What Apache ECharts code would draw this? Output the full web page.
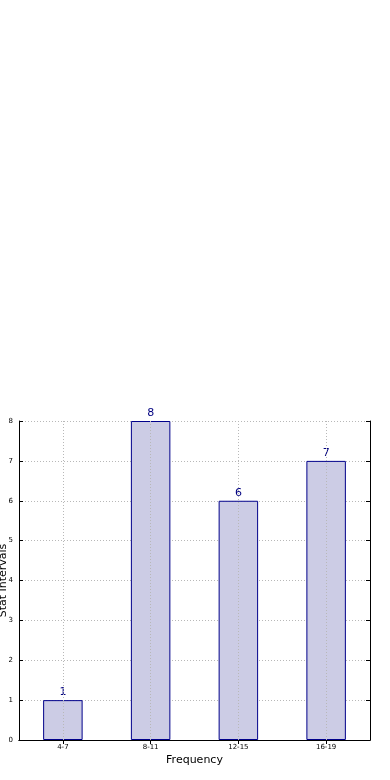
<!DOCTYPE html>
<html>
<head>
<meta charset="utf-8">
<script src="https://cdn.jsdelivr.net/npm/echarts@6/dist/echarts.min.js"></script>
<style>
html,body{margin:0;padding:0;background:#fff;}
#chart{width:390px;height:780px;}
</style>
</head>
<body>
<div id="chart"></div>
<script>
var categories = ['4-7', '8-11', '12-15', '16-19'];
var values = [1, 8, 6, 7];
var yTicks = [0, 1, 2, 3, 4, 5, 6, 7, 8];

var chart = echarts.init(document.getElementById('chart'));
var font = 'DejaVu Sans';
var gridLine = {color: '#b8b8b8', type: [1, 2], width: 1};
chart.setOption({
  animation: false,
  grid: {left: 19, right: 20, top: 421, bottom: 40, containLabel: false, outerBoundsMode: 'none'},
  xAxis: [{
    type: 'category', data: categories, position: 'bottom',
    boundaryGap: true,
    axisLine: {show: true, lineStyle: {color: '#000', width: 1}},
    axisTick: {show: true, inside: true, alignWithLabel: true, length: 4, lineStyle: {color: '#000'}},
    axisLabel: {color: '#000', fontSize: 7, fontFamily: font, margin: 4},
    splitLine: {show: false},
    name: 'Frequency', nameLocation: 'middle', nameGap: 15, nameMoveOverlap: false,
    nameTextStyle: {color: '#000', fontSize: 11, fontFamily: font}
  }, {
    type: 'category', data: categories, position: 'top',
    boundaryGap: true,
    axisLine: {show: true, lineStyle: {color: '#000', width: 1}},
    axisTick: {show: true, inside: true, alignWithLabel: true, length: 4, lineStyle: {color: '#000'}},
    axisLabel: {show: false},
    splitLine: {show: false}
  }],
  yAxis: [{
    type: 'value', min: 0, max: 8, interval: 1, position: 'left',
    axisLine: {show: true, lineStyle: {color: '#000', width: 1}},
    axisTick: {show: true, inside: true, length: 4, lineStyle: {color: '#000'}},
    axisLabel: {color: '#000', fontSize: 7, fontFamily: font, margin: 6,
      formatter: function (v) { return yTicks.indexOf(v) >= 0 ? String(v) : ''; }},
    splitLine: {show: true, lineStyle: gridLine},
    name: 'Stat Intervals', nameLocation: 'middle', nameGap: 10, nameRotate: 90, nameMoveOverlap: false,
    nameTextStyle: {color: '#000', fontSize: 11, fontFamily: font}
  }, {
    type: 'value', min: 0, max: 8, interval: 1, position: 'right',
    axisLine: {show: true, lineStyle: {color: '#000', width: 1}},
    axisTick: {show: true, inside: true, length: 4, lineStyle: {color: '#000'}},
    axisLabel: {show: false},
    splitLine: {show: false}
  }],
  series: [{
    type: 'bar', data: values, xAxisIndex: 0, yAxisIndex: 0,
    barWidth: '45%',
    itemStyle: {color: '#ccccE5', borderColor: '#00008b', borderWidth: 1},
    label: {show: true, position: 'top', distance: 2, color: '#000080', fontSize: 11, fontFamily: font},
    markLine: {
      silent: true, symbol: ['none', 'none'], z: 5,
      label: {show: false},
      lineStyle: gridLine,
      data: categories.map(function (c) { return {xAxis: c}; })
    },
    z: 2
  }]
});
</script>
</body>
</html>
